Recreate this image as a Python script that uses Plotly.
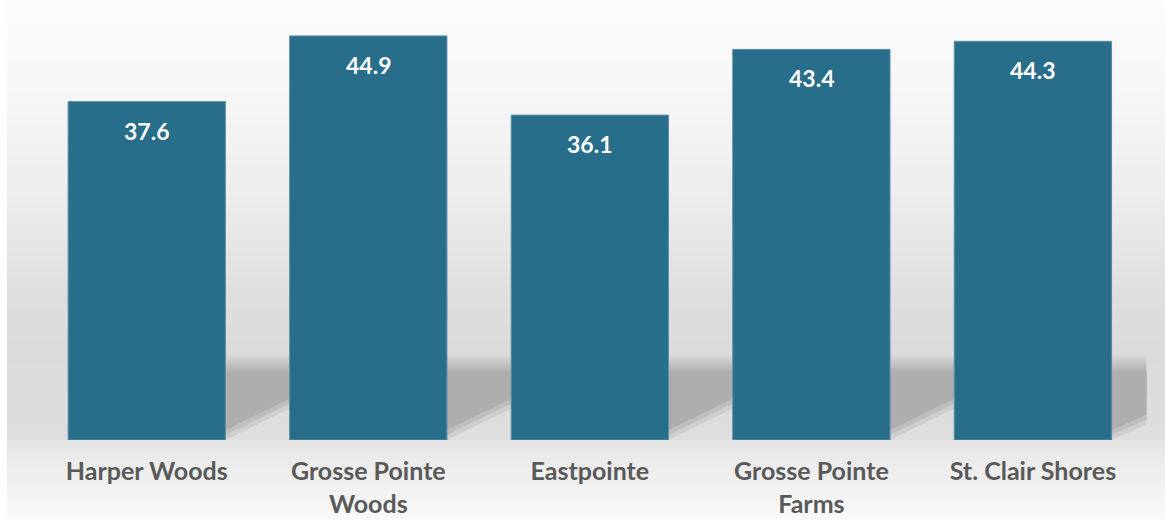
import plotly.graph_objects as go

categories = ["Harper Woods", "Grosse Pointe Woods", "Eastpointe", "Grosse Pointe Farms", "St. Clair Shores"]
values = [37.6, 44.9, 36.1, 43.4, 44.3]
tick_labels = ["Harper Woods", "Grosse Pointe<br>Woods", "Eastpointe", "Grosse Pointe<br>Farms", "St. Clair Shores"]

W, H = 1165, 520
ML, MR, MT, MB = 36, 18, 10, 80
PW = W - ML - MR
PH = H - MT - MB
YMAX = PH / 9.0
XR = [-0.5, 4.515]
BAR_COLOR = "#286E8A"
FONT = "Lato"

def px2paper_x(px):
    return (px - ML) / PW

def py2paper_y(py):
    return (H - MB - py) / PH

def py2data(py):
    return (H - MB - py) / 9.0

def gray(v):
    v = int(round(v))
    return f"rgb({v},{v},{v})"

# background vertical profile (pixel y -> gray level)
prof = [(0, 252), (100, 246), (200, 236), (300, 222), (350, 219), (438, 222),
        (441, 229), (470, 237), (500, 245), (520, 250)]

def level(py):
    for (a, va), (b, vb) in zip(prof, prof[1:]):
        if a <= py <= b:
            return va + (vb - va) * (py - a) / (b - a)
    return prof[-1][1]

shapes = []
step = 4
for py in range(0, H, step):
    shapes.append(dict(type="rect", xref="paper", yref="paper", layer="below",
                       x0=px2paper_x(7), x1=px2paper_x(W),
                       y0=py2paper_y(py + step), y1=py2paper_y(py),
                       fillcolor=gray(level(py + step / 2)), line=dict(width=0)))

# cast shadows between bars
half = 0.355
ends = []
for i in range(len(categories)):
    xr = i + half
    xn = i + 1 - half if i < len(categories) - 1 else i + half + 35 / (PW / (XR[1] - XR[0]))
    ends.append((xr, xn))

DARK = 174
for xr, xn in ends:
    wpx = (xn - xr) * PW / (XR[1] - XR[0])
    # top fade
    for k in range(0, 18, 2):
        t = (k + 1) / 18
        c = 220 + (DARK - 220) * t
        shapes.append(dict(type="rect", xref="x", yref="y", layer="below",
                           x0=xr, x1=xn, y0=py2data(354 + k + 2), y1=py2data(354 + k),
                           fillcolor=gray(c), line=dict(width=0)))
    yl = 440
    yr = 440 - 0.55 * wpx
    # soft outer layers
    shapes.append(dict(type="path", xref="x", yref="y", layer="below",
                       path=f"M {xr},{py2data(372)} L {xn},{py2data(372)} L {xn},{py2data(yr + 4)} L {xr},{py2data(yl)} Z",
                       fillcolor=gray(206), line=dict(width=0)))
    shapes.append(dict(type="path", xref="x", yref="y", layer="below",
                       path=f"M {xr},{py2data(372)} L {xn},{py2data(372)} L {xn},{py2data(yr - 1)} L {xr},{py2data(yl - 5)} Z",
                       fillcolor=gray(190), line=dict(width=0)))
    shapes.append(dict(type="path", xref="x", yref="y", layer="below",
                       path=f"M {xr},{py2data(372)} L {xn},{py2data(372)} L {xn},{py2data(yr - 6)} L {xr},{py2data(yl - 10)} Z",
                       fillcolor=gray(DARK), line=dict(width=0)))

fig = go.Figure()
fig.add_trace(go.Bar(
    x=categories, y=values,
    marker=dict(color=BAR_COLOR, line=dict(color="#5B8FA6", width=1)),
    width=0.71,
    hoverinfo="skip",
))

annotations = []
for c, v in zip(categories, values):
    annotations.append(dict(x=c, y=v, xref="x", yref="y", text=f"{v:.1f}",
                            showarrow=False, yanchor="middle", yshift=-29,
                            font=dict(family=FONT, size=23, color="white", weight="bold")))

fig.update_layout(
    width=W, height=H,
    margin=dict(l=ML, r=MR, t=MT, b=MB),
    paper_bgcolor="white",
    plot_bgcolor="rgba(0,0,0,0)",
    showlegend=False,
    shapes=shapes,
    annotations=annotations,
    xaxis=dict(range=XR, tickmode="array", tickvals=categories, ticktext=tick_labels,
               showgrid=False, zeroline=False, showline=False, ticks="",
               ticklabelstandoff=14, automargin=False,
               tickfont=dict(family=FONT, size=25, color="#595959", weight="bold")),
    yaxis=dict(range=[0, YMAX], visible=False, showgrid=False, zeroline=False,
               automargin=False),
)

fig.write_html("out.html")
